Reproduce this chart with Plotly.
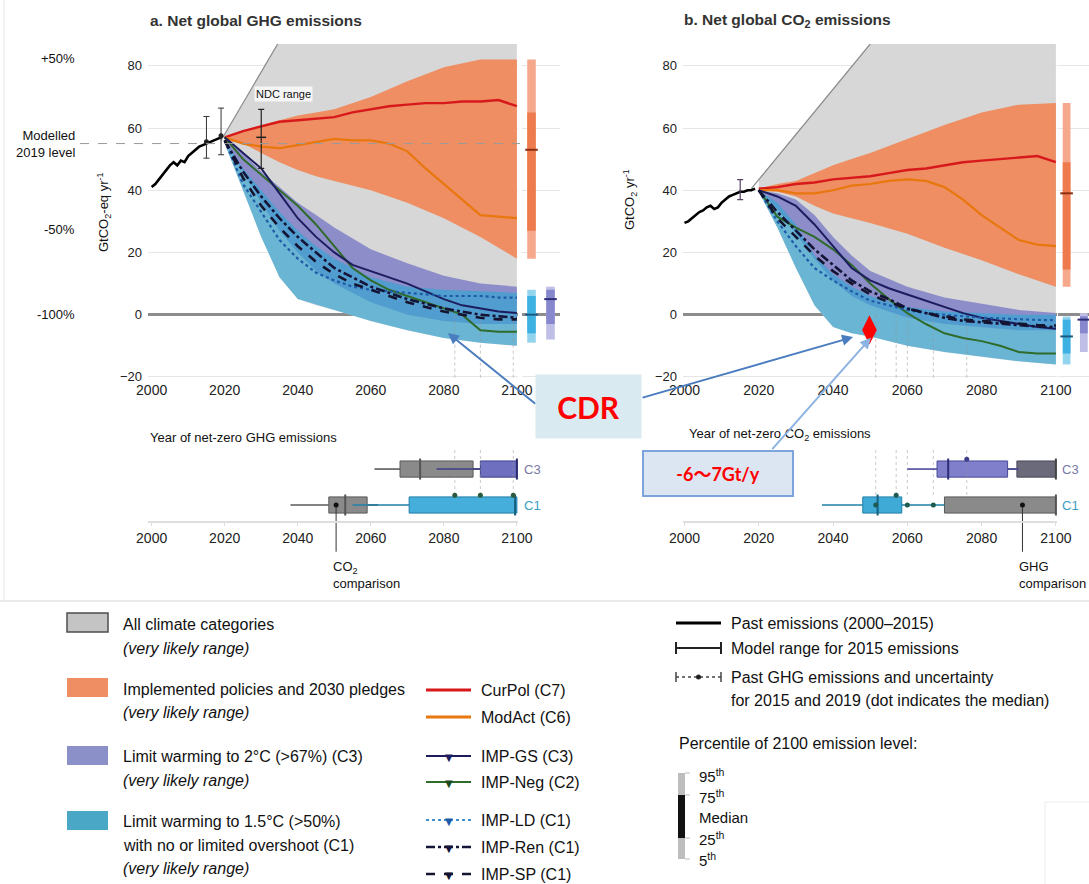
import plotly.graph_objects as go

W, H = 1089, 884
def fx(p): return p / W
def fy(p): return 1 - p / H

FONT = "Liberation Sans, Arial, sans-serif"
BOXFONT = "Lato, Liberation Sans, Noto Sans CJK JP, sans-serif"

# ---------------- data ----------------
past_years = list(range(2000, 2020))
past_ghg = [41, 42, 43.5, 45, 46.5, 48, 49, 48, 49.5, 49, 51, 52, 53, 54, 54.5, 55, 55.5, 56, 56.5, 57]
past_co2 = [29.5, 30, 31, 32, 33, 33.5, 34.5, 35, 34, 34.5, 36, 37, 38, 38.5, 39, 39.5, 39.5, 40, 40, 40.5]

path_years = [2020, 2025, 2030, 2035, 2040, 2045, 2050, 2055, 2060, 2065, 2070, 2075, 2080, 2085, 2090, 2095, 2100]
# panel a (GtCO2-eq/yr)
curpol_a = [57, 59, 60.5, 62, 62.5, 63, 63.5, 65, 66, 67, 67.5, 68, 68, 68.5, 68.5, 69, 67]
modact_a = [57, 55, 54, 53.5, 54.5, 55.5, 56.5, 56, 56, 55, 52.5, 47, 42, 37, 32, 31.5, 31]
impgs_a = [57, 52, 47, 39, 31, 25, 20, 16, 14, 12, 10, 7.5, 5, 3, 2, 1, 0.5]
impneg_a = [57, 50, 45, 40, 35, 29, 22, 15, 11, 8, 6, 4, 2, 0, -5, -5.5, -5.5]
impld_a = [56, 42, 33, 24, 18, 13.5, 11, 9, 8, 7.5, 7, 6.5, 6, 6, 6, 5.5, 5.5]
impren_a = [56, 46, 38, 31, 25, 20, 15, 12, 9, 7, 5, 3.5, 2, 1, 0, -0.5, -1]
impsp_a = [56, 44, 35, 28, 22, 17, 13, 10, 8, 6, 4, 2.5, 1, 0, -1, -1.5, -1.5]
# panel b (GtCO2/yr)
curpol_b = [40.5, 41, 42, 42.5, 43.5, 44, 44.5, 45.5, 46.5, 47, 48, 49, 49.5, 50, 50.5, 51, 49]
modact_b = [40, 40, 39, 39, 40, 41.5, 42, 43, 43.5, 43, 41, 37, 32, 28, 24, 22.5, 22]
impgs_b = [40, 38, 35, 29, 22, 15, 11, 8.5, 6.5, 4.5, 2.5, 0.5, -1, -2, -3, -4, -4.5]
impneg_b = [40, 31.5, 28, 25, 21, 16, 10, 5, 0.5, -3, -6, -7.5, -8.5, -10, -12, -12.5, -12.5]
impld_b = [40, 30, 22, 15, 11, 7.5, 4.5, 3, 1.5, 0.5, 0, -0.5, -1, -1.2, -1.5, -1.7, -1.8]
impren_b = [40, 33, 27, 21, 16, 11, 7.5, 5, 2, 0.5, -1, -2, -2.5, -3, -3.5, -3.8, -4]
impsp_b = [40, 31, 25, 19, 14, 10, 6.5, 4, 2, 0.5, -0.5, -1.5, -2, -2.5, -3, -3.3, -3.5]

band_years = [2020, 2025, 2030, 2035, 2040, 2045, 2050, 2060, 2070, 2080, 2090, 2100]
pol_hi_a = [57, 59, 61, 62.5, 64, 65, 66, 70, 75, 79.5, 82, 82]
pol_lo_a = [56, 55, 52, 49, 46.5, 44.5, 43, 40, 36, 31, 25, 18]
c3_hi_a = [56, 52, 46, 41, 36, 32, 28, 21, 16.5, 12.5, 10, 9]
c3_lo_a = [55, 46, 36, 27, 20, 14, 10, 4, 0, -2, -3, -3]
c1_hi_a = [56, 47, 40, 33, 27, 22, 18, 12, 9, 8, 7.5, 7]
c1_lo_a = [55, 40, 25, 12, 5, 3, 1.5, -2, -5, -7.5, -9, -10]
pol_hi_b = [40.5, 42, 43, 45.5, 48, 50, 52, 56.5, 61, 65, 67.5, 68]
pol_lo_b = [40, 39.5, 38, 35, 32.5, 31, 29.5, 26, 21.5, 17.5, 13, 9]
c3_hi_b = [40, 39, 37, 32, 25, 19, 14, 9, 5.5, 3.5, 1.5, 0.5]
c3_lo_b = [39.5, 34, 26, 18, 11, 6, 3, -1, -3, -4, -5, -5]
c1_hi_b = [40, 36, 29, 19, 13, 9, 6, 2.5, 1, 0.5, 0, 0]
c1_lo_b = [39.5, 28, 15, 3, -4, -6, -7, -10, -12, -13.5, -15, -16]

all_top_years_a = [2020, 2034.5, 2100]
all_top_a = [58, 87, 87]
all_edge_years_a = [2019, 2034.5]
all_edge_a = [56, 87]
all_top_years_b = [2020, 2050, 2100]
all_top_b = [43.5, 87, 87]
all_edge_years_b = [2018, 2050]
all_edge_b = [40.5, 87]

modelled_2019 = 55
pct_levels = [50, 0, -50, -100]
pct_labels = ["+50%", "Modelled<br>2019 level", "-50%", "-100%"]

# uncertainty bars
ghg_unc_years = [2015, 2019]
ghg_unc_med = [55.6, 57.5]
ghg_unc_lo = [50.3, 51.4]
ghg_unc_hi = [63.7, 66.4]
ndc_year, ndc_mid, ndc_lo, ndc_hi = 2030, 57, 47, 66
co2_model_year, co2_model_mid, co2_model_lo, co2_model_hi = 2015, 40, 37, 43.4

# 2100 percentiles: [p5, p25, median, p75, p95]
pct2100_a = {"pol": [18, 27, 53, 65, 82], "c1": [-9, -6, 0, 6, 8], "c3": [-8, -3, 5, 8, 9]}
pct2100_b = {"pol": [9, 14.5, 39, 49, 68], "c1": [-16, -12.5, -7, -1.6, -0.6], "c3": [-12, -6, -1.6, -0.5, 0.5]}

# Year of net zero: [whisker_lo, q1, median, q3, whisker_hi]
nz_ghg = {"c3": [2078, 2090, 2100, 2100, 2100], "c3_cmp": [2061, 2068, 2073.5, 2088, 2090],
          "c1": [2055, 2070.5, 2099.5, 2100, 2100], "c1_cmp": [2038, 2048.5, 2053, 2059, 2062]}
nz_co2 = {"c3": [2060, 2068, 2071, 2087, 2090], "c3_cmp": [2087, 2089.5, 2100, 2100, 2100],
          "c1": [2037, 2048, 2052, 2058.5, 2070], "c1_cmp": [2070, 2070, 2100, 2100, 2100]}
imp_nz_ghg = [2083, 2090, 2099]
imp_nz_co2 = [2051.5, 2057, 2060, 2067, 2076]
imp_nz_co2_c3 = [2076]
cmp_dot_a = 2050.5
cmp_dot_b = 2091

cdr_point = (2049.8, -4.9)

tick_years = [2000, 2020, 2040, 2060, 2080, 2100]

# ---------------- colours ----------------
GRAY = "#d7d7d7"
ORANGE = "#EE8E62"
PURPLE = "rgba(128,128,200,0.85)"
TEAL = "rgba(55,165,210,0.68)"

fig = go.Figure()

def add(tr):
    tr.showlegend = False
    tr.hoverinfo = "skip"
    fig.add_trace(tr)

def band(x, lo, hi, color, xa, ya):
    add(go.Scatter(x=x + x[::-1], y=hi + lo[::-1], fill="toself", fillcolor=color,
                   mode="lines", line=dict(width=0), xaxis=xa, yaxis=ya))

def line(x, y, color, width, dash, xa, ya):
    add(go.Scatter(x=x, y=y, mode="lines", line=dict(color=color, width=width, dash=dash),
                   xaxis=xa, yaxis=ya))

panels = [
    dict(xa="x", ya="y", top_x=all_top_years_a, top=all_top_a, edge_x=all_edge_years_a, edge=all_edge_a,
         pol=(pol_lo_a, pol_hi_a), c3=(c3_lo_a, c3_hi_a), c1=(c1_lo_a, c1_hi_a),
         cur=curpol_a, mod=modact_a, gs=impgs_a, neg=impneg_a, ld=impld_a, ren=impren_a, sp=impsp_a,
         past=past_ghg, nz=imp_nz_ghg),
    dict(xa="x2", ya="y2", top_x=all_top_years_b, top=all_top_b, edge_x=all_edge_years_b, edge=all_edge_b,
         pol=(pol_lo_b, pol_hi_b), c3=(c3_lo_b, c3_hi_b), c1=(c1_lo_b, c1_hi_b),
         cur=curpol_b, mod=modact_b, gs=impgs_b, neg=impneg_b, ld=impld_b, ren=impren_b, sp=impsp_b,
         past=past_co2, nz=imp_nz_co2),
]

for p in panels:
    xa, ya = p["xa"], p["ya"]
    add(go.Scatter(x=p["top_x"] + band_years[::-1], y=p["top"] + p["c1"][0][::-1], fill="toself",
                   fillcolor=GRAY, mode="lines", line=dict(width=0), xaxis=xa, yaxis=ya))
    line(p["edge_x"], p["edge"], "#8a8a8a", 1.2, "solid", xa, ya)
    band(band_years, p["pol"][0], p["pol"][1], ORANGE, xa, ya)
    band(band_years, p["c3"][0], p["c3"][1], PURPLE, xa, ya)
    band(band_years, p["c1"][0], p["c1"][1], TEAL, xa, ya)
    for yv in p["nz"]:
        line([yv, yv], [0, -21], "rgba(150,150,150,0.55)", 1, "dot", xa, ya)
    line(path_years, p["cur"], "#D7191C", 2.4, "solid", xa, ya)
    line(path_years, p["mod"], "#E8770E", 2.2, "solid", xa, ya)
    line(path_years, p["neg"], "#2F6B2A", 2.0, "solid", xa, ya)
    line(path_years, p["gs"], "#1C1C5E", 2.0, "solid", xa, ya)
    line(path_years, p["ld"], "#1E5AA8", 2.2, "dot", xa, ya)
    line(path_years, p["ren"], "#141438", 2.6, "dashdot", xa, ya)
    line(path_years, p["sp"], "#141430", 2.6, "dash", xa, ya)
    line(past_years, p["past"], "black", 2.6, "solid", xa, ya)

# uncertainty / range bars
add(go.Scatter(x=ghg_unc_years, y=ghg_unc_med, mode="markers",
               marker=dict(size=5, color="#222"),
               error_y=dict(type="data", symmetric=False,
                            array=[h - m for h, m in zip(ghg_unc_hi, ghg_unc_med)],
                            arrayminus=[m - l for m, l in zip(ghg_unc_med, ghg_unc_lo)],
                            color="#333", thickness=1, width=3),
               xaxis="x", yaxis="y"))
add(go.Scatter(x=[ndc_year], y=[ndc_mid], mode="markers",
               marker=dict(symbol="line-ew", size=7, line=dict(width=1.5, color="#222")),
               error_y=dict(type="data", symmetric=False, array=[ndc_hi - ndc_mid],
                            arrayminus=[ndc_mid - ndc_lo], color="#222", thickness=1.2, width=3),
               xaxis="x", yaxis="y"))
add(go.Scatter(x=[co2_model_year], y=[co2_model_mid], mode="markers",
               marker=dict(symbol="line-ew", size=1, line=dict(width=1, color="#444")),
               error_y=dict(type="data", symmetric=False, array=[co2_model_hi - co2_model_mid],
                            arrayminus=[co2_model_mid - co2_model_lo], color="#554466", thickness=1.2, width=3),
               xaxis="x2", yaxis="y2"))

# 2100 percentile bars at right
pct_cols = {"pol": ("#F6A88C", "#EE7B4E", "#8B2E10", 0),
            "c1": ("#92D4EE", "#3DB2E2", "#1A5A80", 0),
            "c3": ("#BEBEE6", "#8787CE", "#2E2E78", 1)}
for xa, ya, d in [("x5", "y", pct2100_a), ("x6", "y2", pct2100_b)]:
    for key in ["pol", "c1", "c3"]:
        v = d[key]
        light, dark, med, pos = pct_cols[key]
        add(go.Bar(x=[pos], y=[v[4] - v[0]], base=[v[0]], width=0.45, marker=dict(color=light, line=dict(width=0)),
                   xaxis=xa, yaxis=ya))
        add(go.Bar(x=[pos], y=[v[3] - v[1]], base=[v[1]], width=0.45, marker=dict(color=dark, line=dict(width=0)),
                   xaxis=xa, yaxis=ya))
        add(go.Scatter(x=[pos], y=[v[2]], mode="markers",
                       marker=dict(symbol="line-ew", size=9, line=dict(width=2, color=med)),
                       xaxis=xa, yaxis=ya))

def nzbox(v, row, fill, edge, medc, xa, ya):
    add(go.Scatter(x=[v[0], v[1]], y=[row, row], mode="lines", line=dict(color=edge, width=1.6), xaxis=xa, yaxis=ya))
    add(go.Scatter(x=[v[3], v[4]], y=[row, row], mode="lines", line=dict(color=edge, width=1.6), xaxis=xa, yaxis=ya))
    add(go.Bar(orientation="h", y=[row], x=[v[3] - v[1]], base=[v[1]], width=0.45,
               marker=dict(color=fill, line=dict(color=edge, width=1)), xaxis=xa, yaxis=ya))
    add(go.Scatter(x=[v[2]], y=[row], mode="markers",
                   marker=dict(symbol="line-ns", size=15, line=dict(width=2, color=medc)), xaxis=xa, yaxis=ya))

G_FILL, G_EDGE = "#8a8a8a", "#5a5a5a"
for yv in imp_nz_ghg:
    line([yv, yv], [1.53, 0.2], "rgba(150,150,150,0.5)", 1, "dot", "x3", "y3")
for yv in imp_nz_co2:
    line([yv, yv], [1.53, 0.2], "rgba(150,150,150,0.5)", 1, "dot", "x4", "y4")

nzbox(nz_ghg["c3_cmp"], 1, G_FILL, G_EDGE, "#555", "x3", "y3")
nzbox(nz_ghg["c3"], 1, "#6F6FC0", "#3E3E8A", "#2A2A70", "x3", "y3")
nzbox(nz_ghg["c1_cmp"], 0, G_FILL, G_EDGE, "#555", "x3", "y3")
nzbox(nz_ghg["c1"], 0, "#45AEDA", "#1E7FA8", "#16607F", "x3", "y3")
add(go.Scatter(x=imp_nz_ghg, y=[0.27] * len(imp_nz_ghg), mode="markers",
               marker=dict(size=5, color="#2D5A3A"), xaxis="x3", yaxis="y3"))
line([cmp_dot_a, cmp_dot_a], [0, -1.3], "#333", 1, "solid", "x3", "y3")
add(go.Scatter(x=[cmp_dot_a], y=[0], mode="markers", marker=dict(size=5, color="#111"), xaxis="x3", yaxis="y3"))

nzbox(nz_co2["c3_cmp"], 1, "#6a6a7a", "#4a4a5a", "#444", "x4", "y4")
nzbox(nz_co2["c3"], 1, "#7F7FCB", "#4A4A98", "#2E2E78", "x4", "y4")
nzbox(nz_co2["c1_cmp"], 0, G_FILL, G_EDGE, "#555", "x4", "y4")
nzbox(nz_co2["c1"], 0, "#3FAAD6", "#1E7FA8", "#16607F", "x4", "y4")
add(go.Scatter(x=imp_nz_co2[:4], y=[0.0, 0.27, 0.0, 0.0], mode="markers",
               marker=dict(size=5, color="#1F5A50"), xaxis="x4", yaxis="y4"))
add(go.Scatter(x=imp_nz_co2_c3, y=[1.27], mode="markers", marker=dict(size=5, color="#3E3E8A"), xaxis="x4", yaxis="y4"))
line([cmp_dot_b, cmp_dot_b], [0, -1.3], "#333", 1, "solid", "x4", "y4")
add(go.Scatter(x=[cmp_dot_b], y=[0], mode="markers", marker=dict(size=5, color="#111"), xaxis="x4", yaxis="y4"))

add(go.Scatter(x=[cdr_point[0]], y=[cdr_point[1]], mode="markers",
               marker=dict(symbol="diamond-tall", size=21, color="#FF0000", line=dict(width=0)),
               xaxis="x2", yaxis="y2"))

# ---------------- layout ----------------
tickf = dict(family=FONT, size=14, color="#222")
main_x = dict(range=[1999, 2100.3], tickvals=tick_years, showgrid=False, zeroline=False, showline=False,
              ticks="", tickfont=tickf, fixedrange=True, automargin=False)
main_y = dict(range=[-21, 87], domain=[fy(380), fy(44)], tickvals=[-20, 0, 20, 40, 60, 80],
              showgrid=True, gridcolor="#e6e6e6", gridwidth=1, zeroline=True, zerolinecolor="#8c8c8c",
              zerolinewidth=2.5, tickfont=dict(family=FONT, size=13, color="#222"), ticks="",
              fixedrange=True, ticklabelstandoff=5, automargin=False)
low_x = dict(range=[1999, 2100.3], tickvals=tick_years, showgrid=False, zeroline=False, showline=True,
             linecolor="#dedede", linewidth=1.5, ticks="outside", ticklen=3, tickcolor="#dedede",
             tickfont=tickf, anchor="free", position=fy(522), fixedrange=True, automargin=False)
low_y = dict(range=[-1.53, 1.53], domain=[fy(560), fy(450)], visible=False, fixedrange=True, automargin=False)

fig.update_layout(
    width=W, height=H, margin=dict(l=0, r=0, t=0, b=0, pad=0, autoexpand=False),
    paper_bgcolor="white", plot_bgcolor="rgba(0,0,0,0)",
    barmode="overlay", showlegend=False, font=dict(family=FONT),
    xaxis=dict(main_x, domain=[fx(148), fx(518)], anchor="y"),
    yaxis=dict(main_y, anchor="x"),
    xaxis2=dict(main_x, domain=[fx(683), fx(1057)], range=[1999.6, 2100.3], anchor="y2"),
    yaxis2=dict(main_y, anchor="x2"),
    xaxis3=dict(low_x, domain=[fx(148), fx(518)]),
    yaxis3=dict(low_y, anchor="x3"),
    xaxis4=dict(low_x, domain=[fx(683), fx(1057)], range=[1999.6, 2100.3]),
    yaxis4=dict(low_y, anchor="x4"),
    xaxis5=dict(domain=[fx(522), fx(560)], range=[-0.5, 1.5], visible=False, anchor="y", fixedrange=True,
                automargin=False),
    xaxis6=dict(domain=[fx(1058), 1.0], range=[-0.5, 1.3], visible=False, anchor="y2", fixedrange=True,
                automargin=False),
)

ann = []
def txt(x, y, t, size=14, color="#111", xanchor="left", yanchor="middle", align="left", **kw):
    d = dict(x=x, y=y, text=t, showarrow=False, xanchor=xanchor, yanchor=yanchor, align=align,
             font=dict(family=kw.pop("family", FONT), size=size, color=color))
    d.setdefault("xref", "paper"); d.setdefault("yref", "paper")
    d.update(kw)
    ann.append(d)

txt(fx(148), fy(20), "<b>a. Net global GHG emissions</b>", size=15.5, color="#333")
txt(fx(682), fy(20), "<b>b. Net global CO<sub>2</sub> emissions</b>", size=15.5, color="#333")
txt(fx(104), fy(212), "GtCO<sub>2</sub>-eq yr<sup>-1</sup>", size=13, xanchor="center", textangle=-90)
txt(fx(630), fy(200), "GtCO<sub>2</sub> yr<sup>-1</sup>", size=13, xanchor="center", textangle=-90)
for pl, lab in zip(pct_levels, pct_labels):
    txt(fx(77), modelled_2019 * (1 + pl / 100), lab, size=13, xanchor="right", align="right", yref="y")
txt(2036, 71, "NDC range", size=11, xanchor="center", xref="x", yref="y", bgcolor="rgba(255,255,255,0.75)")
txt(fx(148), fy(437), "Year of net-zero GHG emissions", size=13)
txt(fx(687), fy(434), "Year of net-zero CO<sub>2</sub> emissions", size=13)
txt(fx(522), 1, "C3", size=13, color="#7878a8", yref="y3")
txt(fx(522), 0, "C1", size=13, color="#3a9fc2", yref="y3")
txt(fx(1060), 1, "C3", size=13, color="#7878a8", yref="y4")
txt(fx(1060), 0, "C1", size=13, color="#3a9fc2", yref="y4")
txt(cmp_dot_a - 1.5, -1.45, "CO<sub>2</sub><br>comparison", size=13, xref="x3", yref="y3", yanchor="top")
txt(cmp_dot_b - 1.5, -1.45, "GHG<br>comparison", size=13, xref="x4", yref="y4", yanchor="top")

ann.append(dict(x=2081.1, y=-5.9, xref="x", yref="y", ax=89, ay=72, showarrow=True, arrowhead=2,
                arrowsize=1.1, arrowwidth=2, arrowcolor="#4A7CC0", text=""))
ann.append(dict(x=2045.4, y=-7.2, xref="x2", yref="y2", ax=-212, ay=61, showarrow=True, arrowhead=2,
                arrowsize=1.1, arrowwidth=2, arrowcolor="#4A7CC0", text=""))
ann.append(dict(x=2050.2, y=-7.4, xref="x2", yref="y2", ax=-100, ay=113, showarrow=True, arrowhead=2,
                arrowsize=1.1, arrowwidth=2, arrowcolor="#8DB3E2", text=""))
txt(fx(588.5), fy(406.5), "<b>CDR</b>", size=30, color="#FF0000", xanchor="center", align="center",
    valign="middle", family=BOXFONT, bgcolor="#DAEAF1", width=103, height=61, borderpad=1)
txt(fx(718), fy(473.5), "<b>-6〜7Gt/y</b>", size=18, color="#FF0000", xanchor="center", align="center",
    valign="middle", family=BOXFONT, bgcolor="#DCE6F2", bordercolor="#7FA3DB", borderwidth=2,
    width=146, height=41, borderpad=1)

# ---------- legend (drawn) ----------
shapes = []
def rect(x0, y0, x1, y1, fill, lc=None, lw=0, layer="above"):
    shapes.append(dict(type="rect", xref="paper", yref="paper", x0=fx(x0), x1=fx(x1), y0=fy(y1), y1=fy(y0),
                       fillcolor=fill, line=dict(color=lc or fill, width=lw), layer=layer))
def seg(x0, y0, x1, y1, color, width, dash="solid"):
    shapes.append(dict(type="line", xref="paper", yref="paper", x0=fx(x0), x1=fx(x1), y0=fy(y0), y1=fy(y1),
                       line=dict(color=color, width=width, dash=dash)))

seg(0, 601, 1089, 601, "#e2e2e2", 1.5)
seg(4, 0, 4, 601, "#eeeeee", 1.5)
shapes.append(dict(type="line", xref="paper", yref="y", x0=fx(80), x1=fx(520), y0=modelled_2019,
                   y1=modelled_2019, line=dict(color="#9a9a9a", width=1, dash="dash"), layer="above"))

rect(67, 613, 108, 632, "#c4c4c4", "#4d4d4d", 1.5)
rect(67, 678, 108, 697, ORANGE)
rect(67, 746, 108, 765, "#8C90C9")
rect(67, 811, 108, 830, "#4AA7C5")
LF = 16
txt(fx(121), fy(624), "All climate categories", size=LF)
txt(fx(121), fy(648), "<i>(very likely range)</i>", size=LF)
txt(fx(121), fy(689), "Implemented policies and 2030 pledges", size=LF)
txt(fx(121), fy(712), "<i>(very likely range)</i>", size=LF)
txt(fx(121), fy(756), "Limit warming to 2°C (>67%) (C3)", size=LF)
txt(fx(121), fy(780), "<i>(very likely range)</i>", size=LF)
txt(fx(121), fy(821), "Limit warming to 1.5°C (>50%)", size=LF)
txt(fx(121), fy(845), "with no or limited overshoot (C1)", size=LF)
txt(fx(121), fy(868), "<i>(very likely range)</i>", size=LF)

leg_lines = [("CurPol (C7)", 690, "#D7191C", "solid", 3, None),
             ("ModAct (C6)", 717, "#E8770E", "solid", 3, None),
             ("IMP-GS (C3)", 756, "#1C1C5E", "solid", 2.2, "#1C1C5E"),
             ("IMP-Neg (C2)", 782, "#2F6B2A", "solid", 2.2, "#1E4A1A"),
             ("IMP-LD (C1)", 820, "#3C8FD0", "dot", 2.2, "#1E5AA8"),
             ("IMP-Ren (C1)", 847, "#141438", "dashdot", 2.4, "#141438"),
             ("IMP-SP (C1)", 874, "#141430", "dash", 2.4, "#141430")]
for name, yy, col, dash, w, mk in leg_lines:
    seg(426, yy, 471, yy, col, w, dash)
    if mk:
        txt(fx(448.5), fy(yy + 1), "▼", size=10, color=mk, xanchor="center", family="DejaVu Sans")
    txt(fx(479), fy(yy), name, size=LF)

seg(676, 623, 721, 623, "black", 3)
txt(fx(729), fy(623), "Past emissions (2000–2015)", size=LF)
seg(676, 648, 721, 648, "#222", 2)
seg(676, 642, 676, 654, "#222", 2)
seg(721, 642, 721, 654, "#222", 2)
txt(fx(729), fy(648), "Model range for 2015 emissions", size=LF)
seg(676, 677, 721, 677, "#444", 1.5, "dot")
seg(676, 672, 676, 682, "#444", 1.5)
seg(721, 672, 721, 682, "#444", 1.5)
shapes.append(dict(type="circle", xref="paper", yref="paper", x0=fx(696), x1=fx(701), y0=fy(679.5), y1=fy(674.5),
                   fillcolor="#222", line=dict(width=0)))
txt(fx(729), fy(677), "Past GHG emissions and uncertainty", size=LF)
txt(fx(729), fy(700), "for 2015 and 2019 (dot indicates the median)", size=LF)
txt(fx(677), fy(743), "Percentile of 2100 emission level:", size=LF)
rect(678, 773, 685, 859, "#bdbdbd")
rect(678, 795, 685, 838, "#111111")
for yy in [773, 795, 838, 859]:
    seg(685, yy, 690, yy, "#bdbdbd", 1)
txt(fx(697), fy(775), "95<sup>th</sup>", size=15)
txt(fx(697), fy(796), "75<sup>th</sup>", size=15)
txt(fx(697), fy(817), "Median", size=15)
txt(fx(697), fy(838), "25<sup>th</sup>", size=15)
txt(fx(697), fy(859), "5<sup>th</sup>", size=15)
rect(1045, 802, 1092, 890, "rgba(0,0,0,0)", "#ececec", 1)

fig.update_layout(annotations=ann, shapes=shapes)
fig.write_html("out.html", config={"displayModeBar": False},
               post_script="document.body.style.margin='0';document.body.style.overflow='hidden';")
